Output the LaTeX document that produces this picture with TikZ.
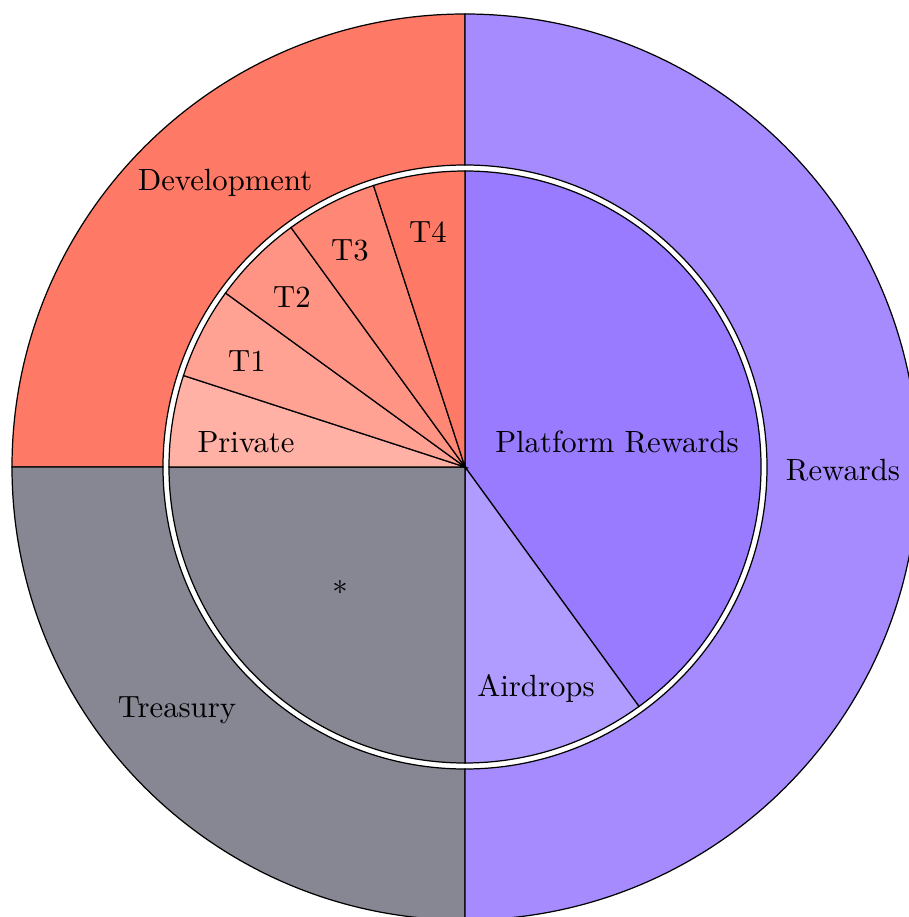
\documentclass[tikz,border=0pt]{standalone}
\begin{document}
\begin{tikzpicture}[x=0.3257pt,y=0.3257pt,
  slice/.style={draw=black,line width=0.4pt},
  lbl/.style={inner sep=0pt}]
\definecolor{cDev}{HTML}{FF7A66}
\definecolor{cPriv}{HTML}{FFB1A6}
\definecolor{cTone}{HTML}{FFA294}
\definecolor{cTtwo}{HTML}{FF9484}
\definecolor{cTthree}{HTML}{FF8775}
\definecolor{cTfour}{HTML}{FF7A66}
\definecolor{cTreas}{HTML}{878794}
\definecolor{cRew}{HTML}{A68BFF}
\definecolor{cPlat}{HTML}{997BFF}
\definecolor{cAir}{HTML}{B09BFF}
\useasboundingbox (-465,-450) rectangle (444,467);
\coordinate (c) at (0,0);
% outer ring: annular sectors
\def\Ri{302}\def\Ro{453}
\newcommand{\ringsector}[3]{%
  \filldraw[slice,fill=#3] (#1:\Ri) arc[start angle=#1,end angle=#2,radius=\Ri]
    -- (#2:\Ro) arc[start angle=#2,end angle=#1,radius=\Ro] -- cycle;}
\ringsector{90}{180}{cDev}
\ringsector{180}{270}{cTreas}
\ringsector{-90}{90}{cRew}
% inner pie
\def\Rp{296}
\newcommand{\piesector}[3]{%
  \filldraw[slice,fill=#3] (c) -- (#1:\Rp) arc[start angle=#1,end angle=#2,radius=\Rp] -- cycle;}
\piesector{-54}{90}{cPlat}
\piesector{-90}{-54}{cAir}
\piesector{180}{270}{cTreas}
\piesector{162}{180}{cPriv}
\piesector{144}{162}{cTone}
\piesector{126}{144}{cTtwo}
\piesector{108}{126}{cTthree}
\piesector{90}{108}{cTfour}
% labels
\node[lbl] (dev) at (-240,284) {Development};
\node[lbl] (t4) at (-37,235) {T4};
\node[lbl] (t3) at (-115,217) {T3};
\node[lbl] (t2) at (-173,170) {T2};
\node[lbl] (t1) at (-218,106) {T1};
\node[lbl] (priv) at (-219,25) {Private};
\node[lbl] (plat) at (152,25) {Platform Rewards};
\node[lbl] (rew) at (378,-3) {Rewards};
\node[lbl] (star) at (-125,-125) {*};
\node[lbl] (treas) at (-288,-243) {Treasury};
\node[lbl] (air) at (71,-221) {Airdrops};
\end{tikzpicture}
\end{document}
